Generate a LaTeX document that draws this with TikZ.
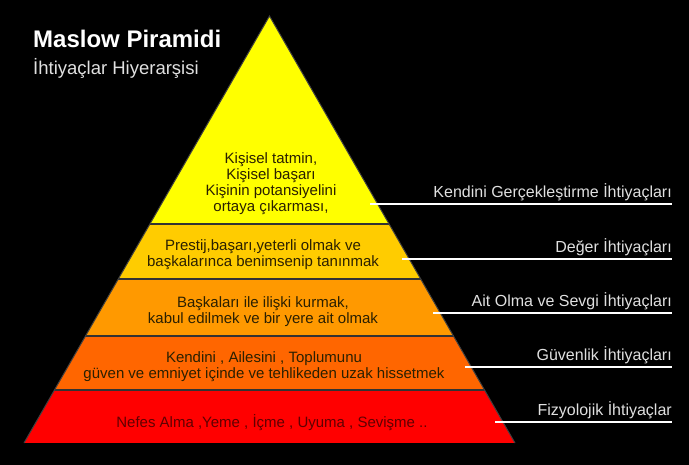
\documentclass[tikz,border=0pt]{standalone}
\usepackage{fontspec}
\setmainfont{Liberation Sans}
\usepackage{tikz}

\definecolor{layer1}{HTML}{FFFF00}
\definecolor{layer2}{HTML}{FFCC00}
\definecolor{layer3}{HTML}{FF9900}
\definecolor{layer4}{HTML}{FF6600}
\definecolor{layer5}{HTML}{FF0000}
\definecolor{layertext}{HTML}{2B2000}
\definecolor{basetext}{HTML}{600000}
\definecolor{labeltext}{HTML}{E0E0E0}
\definecolor{edgegray}{HTML}{404040}

\tikzset{
  layertxt/.style={align=center, inner sep=0, text=layertext, font=\fontsize{15}{16}\selectfont},
  needlabel/.style={anchor=base east, inner sep=0, text=labeltext, font=\fontsize{16}{18}\selectfont},
  needline/.style={draw=white, line width=1.2pt}
}

\begin{document}
\begin{tikzpicture}[x=1pt,y=-1pt]
\fill[black] (0,0) rectangle (689,465);
\useasboundingbox (0,0) rectangle (689,465);

% Title
\node (title) [anchor=base west, inner sep=0, text=white, font=\fontsize{24}{24}\bfseries\selectfont] at (33,48) {Maslow Piramidi};
\node (subtitle) [anchor=base west, inner sep=0, text=labeltext, font=\fontsize{18.5}{20}\selectfont] at (33,75) {İhtiyaçlar Hiyerarşisi};

% Pyramid
\coordinate (apex) at (269.5,16);
\coordinate (baseL) at (24,443);
\coordinate (baseR) at (515,443);
\begin{scope}
  \clip (apex) -- (baseR) -- (baseL) -- cycle;
  \fill[layer1] (0,0) rectangle (689,224);
  \fill[layer2] (0,224) rectangle (689,279);
  \fill[layer3] (0,279) rectangle (689,336);
  \fill[layer4] (0,336) rectangle (689,390);
  \fill[layer5] (0,390) rectangle (689,443);
  \draw[black!80, line width=1.5pt] (0,224) -- (689,224);
  \draw[black!80, line width=1.5pt] (0,279) -- (689,279);
  \draw[black!80, line width=1.5pt] (0,336) -- (689,336);
  \draw[black!80, line width=1.5pt] (0,390) -- (689,390);
\end{scope}
\draw[edgegray, line width=1pt] (baseL) -- (apex) -- (baseR);

% Layer texts
\node (selfact) [layertxt] at (271,184) {Kişisel tatmin,\\Kişisel başarı\\Kişinin potansiyelini\\ortaya çıkarması,};
\node (esteem) [layertxt] at (263,255) {Prestij,başarı,yeterli olmak ve\\başkalarınca benimsenip tanınmak};
\node (belong) [layertxt] at (263,312) {Başkaları ile ilişki kurmak,\\kabul edilmek ve bir yere ait olmak};
\node (safety) [layertxt] at (264,367) {Kendini , Ailesini , Toplumunu\\güven ve emniyet içinde ve tehlikeden uzak hissetmek};
\node (physio) [layertxt, text=basetext] at (272,423) {Nefes Alma ,Yeme , İçme , Uyuma , Sevişme ..};

% Need labels
\node (lbl1) [needlabel] at (672,197.5) {Kendini Gerçekleştirme İhtiyaçları};
\node (lbl2) [needlabel] at (672,252.5) {Değer İhtiyaçları};
\node (lbl3) [needlabel] at (672,306.5) {Ait Olma ve Sevgi İhtiyaçları};
\node (lbl4) [needlabel] at (672,360.5) {Güvenlik İhtiyaçları};
\node (lbl5) [needlabel] at (672,415.5) {Fizyolojik İhtiyaçlar};

% Lines
\coordinate (tick1) at (370,204);
\coordinate (tick2) at (402,259);
\coordinate (tick3) at (433,313);
\coordinate (tick4) at (465,367);
\coordinate (tick5) at (495,422);
\draw[needline] (tick1) -- (tick1 -| lbl1.east);
\draw[needline] (tick2) -- (tick2 -| lbl2.east);
\draw[needline] (tick3) -- (tick3 -| lbl3.east);
\draw[needline] (tick4) -- (tick4 -| lbl4.east);
\draw[needline] (tick5) -- (tick5 -| lbl5.east);
\end{tikzpicture}
\end{document}
